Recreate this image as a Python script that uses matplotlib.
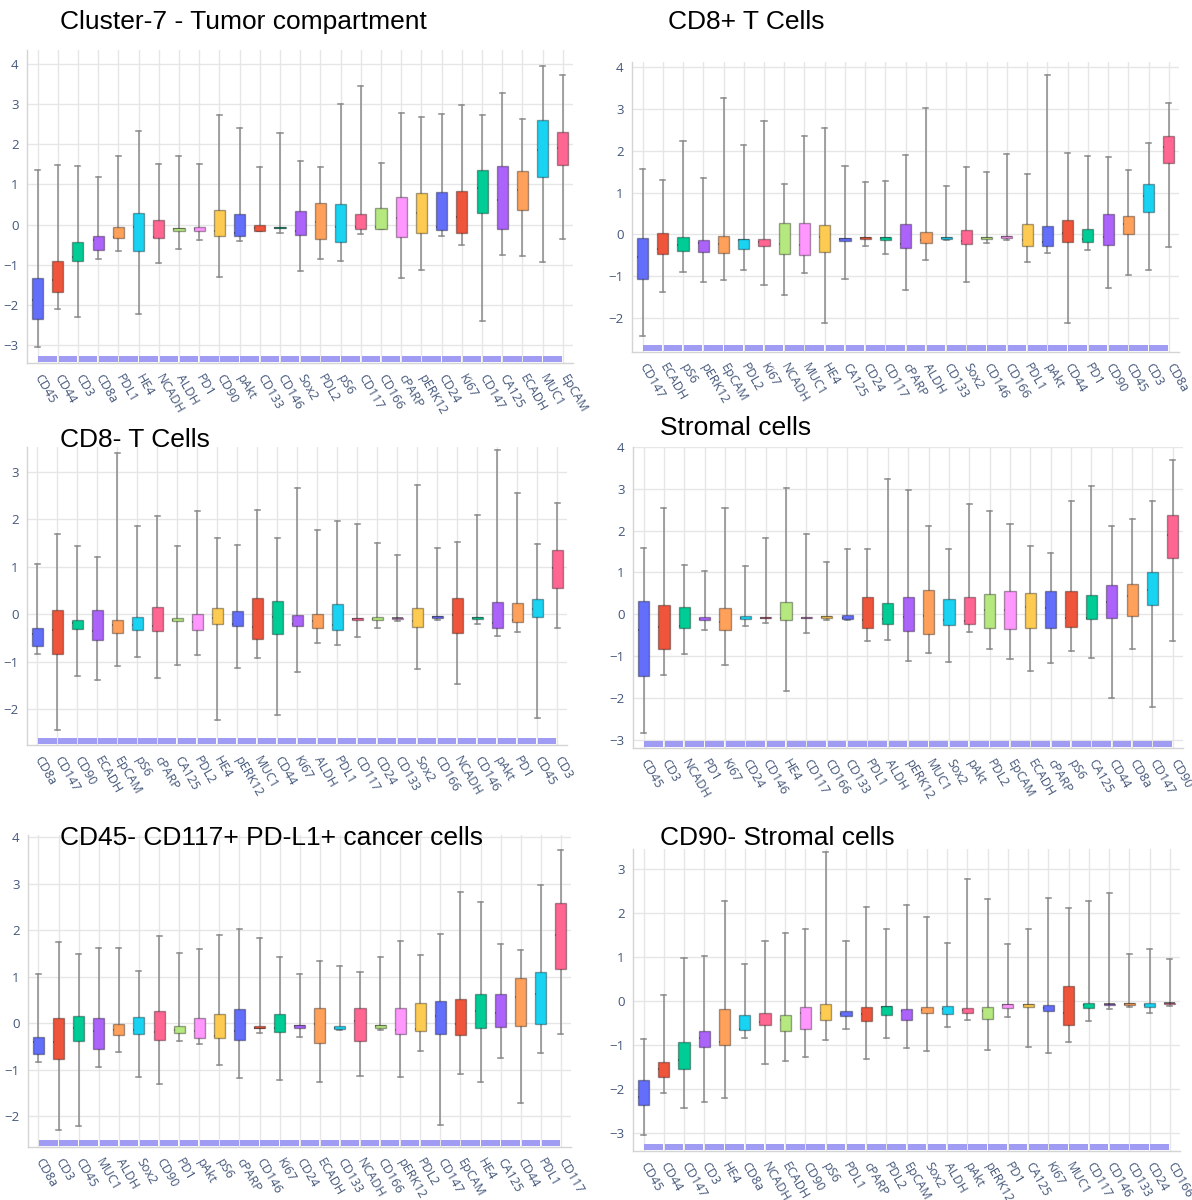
import matplotlib
matplotlib.use("Agg")
import matplotlib.pyplot as plt
from matplotlib.patches import Rectangle
from matplotlib.transforms import blended_transform_factory

W, H = 1192, 1200

# plotly default qualitative colours, cycled per marker
PALETTE = ['#636EFA', '#EF553B', '#00CC96', '#AB63FA', '#FFA15A',
           '#19D3F3', '#FF6692', '#B6E880', '#FF97FF', '#FECB52']

# every row: (lower whisker, q1, median, q3, upper whisker)

# Cluster-7 - Tumor compartment
tumor_labels = ['CD45', 'CD44', 'CD3', 'CD8a', 'PDL1', 'HE4', 'NCADH', 'ALDH', 'PD1',
                'CD90', 'pAkt', 'CD133', 'CD146', 'Sox2', 'PDL2', 'pS6', 'CD117',
                'CD166', 'cPARP', 'pERK12', 'CD24', 'Ki67', 'CD147', 'CA125', 'ECADH',
                'MUC1', 'EpCAM']
tumor_stats = [
    (-3.06, -2.35, -1.87, -1.33, 1.35), (-2.11, -1.67, -1.37, -0.90, 1.49),
    (-2.30, -0.92, -0.82, -0.43, 1.46), (-0.85, -0.64, -0.39, -0.29, 1.19),
    (-0.66, -0.34, -0.32, -0.07, 1.70), (-2.22, -0.67, -0.07, 0.30, 2.34),
    (-0.97, -0.34, -0.30, 0.11, 1.50), (-0.61, -0.17, -0.12, -0.08, 1.72),
    (-0.39, -0.16, -0.11, -0.05, 1.52), (-1.30, -0.28, -0.15, 0.36, 2.72),
    (-0.41, -0.29, -0.20, 0.27, 2.41), (-0.17, -0.15, -0.08, -0.02, 1.43),
    (-0.22, -0.09, -0.08, -0.07, 2.29), (-1.15, -0.25, -0.17, 0.35, 1.58),
    (-0.85, -0.35, 0.06, 0.53, 1.43), (-0.90, -0.44, -0.07, 0.51, 3.01),
    (-0.23, -0.10, -0.07, 0.27, 3.45), (-0.12, -0.10, -0.06, 0.41, 1.53),
    (-1.33, -0.32, 0.16, 0.68, 2.79), (-1.14, -0.22, 0.28, 0.78, 2.68),
    (-0.29, -0.13, -0.05, 0.81, 2.76), (-0.52, -0.21, 0.20, 0.83, 2.97),
    (-2.40, 0.29, 0.90, 1.37, 2.72), (-0.76, -0.12, 0.61, 1.46, 3.27),
    (-0.79, 0.37, 0.87, 1.34, 2.62), (-0.94, 1.19, 1.85, 2.61, 3.95),
    (-0.36, 1.49, 1.91, 2.31, 3.72),
]

# CD8+ T Cells
cd8pos_labels = ['CD147', 'ECADH', 'pS6', 'pERK12', 'EpCAM', 'PDL2', 'Ki67', 'NCADH',
                 'MUC1', 'HE4', 'CA125', 'CD24', 'CD117', 'cPARP', 'ALDH', 'CD133',
                 'Sox2', 'CD146', 'CD166', 'PDL1', 'pAkt', 'CD44', 'PD1', 'CD90',
                 'CD45', 'CD3', 'CD8a']
cd8pos_stats = [
    (-2.44, -1.07, -0.54, -0.08, 1.57), (-1.37, -0.46, -0.34, 0.04, 1.30),
    (-0.89, -0.40, -0.26, -0.06, 2.25), (-1.13, -0.43, -0.20, -0.14, 1.36),
    (-1.09, -0.45, -0.22, -0.03, 3.27), (-0.85, -0.36, -0.14, -0.12, 2.14),
    (-1.21, -0.27, -0.19, -0.12, 2.71), (-1.45, -0.47, -0.23, 0.27, 1.22),
    (-0.93, -0.50, -0.26, 0.28, 2.36), (-2.11, -0.41, -0.06, 0.23, 2.56),
    (-1.07, -0.15, -0.10, -0.08, 1.63), (-0.28, -0.12, -0.08, -0.05, 1.26),
    (-0.46, -0.13, -0.09, -0.05, 1.27), (-1.33, -0.33, -0.24, 0.26, 1.91),
    (-0.61, -0.21, -0.14, 0.05, 3.04), (-0.14, -0.10, -0.08, -0.06, 1.15),
    (-1.15, -0.24, -0.16, 0.10, 1.61), (-0.20, -0.10, -0.08, -0.06, 1.50),
    (-0.14, -0.08, -0.05, -0.03, 1.92), (-0.65, -0.27, -0.14, 0.26, 1.44),
    (-0.44, -0.27, -0.19, 0.21, 3.82), (-2.12, -0.19, 0.04, 0.34, 1.96),
    (-0.38, -0.17, -0.11, 0.12, 1.88), (-1.29, -0.25, -0.07, 0.49, 1.85),
    (-0.98, 0.02, 0.24, 0.45, 1.54), (-0.85, 0.54, 0.93, 1.21, 2.20),
    (-0.31, 1.72, 2.09, 2.35, 3.15),
]

# CD8- T Cells
cd8neg_labels = ['CD8a', 'CD147', 'CD90', 'ECADH', 'EpCAM', 'pS6', 'cPARP', 'CA125',
                 'PDL2', 'HE4', 'pERK12', 'MUC1', 'CD44', 'Ki67', 'ALDH', 'PDL1',
                 'CD117', 'CD24', 'CD133', 'Sox2', 'CD166', 'NCADH', 'CD146', 'pAkt',
                 'PD1', 'CD45', 'CD3']
cd8neg_stats = [
    (-0.84, -0.67, -0.41, -0.29, 1.05), (-2.44, -0.83, -0.32, 0.09, 1.70),
    (-1.30, -0.31, -0.19, -0.11, 1.44), (-1.38, -0.55, -0.35, 0.09, 1.21),
    (-1.09, -0.39, -0.22, -0.11, 3.40), (-0.90, -0.32, -0.22, -0.06, 1.85),
    (-1.33, -0.36, -0.25, 0.15, 2.07), (-1.07, -0.15, -0.12, -0.08, 1.43),
    (-0.85, -0.34, -0.16, 0.01, 2.17), (-2.22, -0.21, -0.08, 0.13, 1.61),
    (-1.14, -0.25, -0.21, 0.07, 1.46), (-0.93, -0.51, -0.27, 0.34, 2.19),
    (-2.12, -0.42, -0.06, 0.29, 1.61), (-1.21, -0.25, -0.20, -0.02, 2.66),
    (-0.61, -0.29, -0.15, 0.01, 1.77), (-0.65, -0.33, -0.23, 0.22, 1.96),
    (-0.47, -0.12, -0.10, -0.07, 1.89), (-0.28, -0.13, -0.09, -0.06, 1.49),
    (-0.15, -0.10, -0.08, -0.07, 1.24), (-1.15, -0.26, -0.15, 0.13, 2.73),
    (-0.13, -0.08, -0.06, -0.04, 1.40), (-1.46, -0.39, -0.01, 0.34, 1.53),
    (-0.20, -0.10, -0.08, -0.06, 2.09), (-0.45, -0.29, -0.18, 0.25, 3.45),
    (-0.37, -0.16, -0.12, 0.23, 2.56), (-2.19, -0.06, 0.11, 0.32, 1.47),
    (-0.29, 0.56, 0.98, 1.35, 2.34),
]

# Stromal cells
stromal_labels = ['CD45', 'CD3', 'NCADH', 'PD1', 'Ki67', 'CD24', 'CD146', 'HE4', 'CD117',
                  'CD166', 'CD133', 'PDL1', 'ALDH', 'pERK12', 'MUC1', 'Sox2', 'pAkt',
                  'PDL2', 'EpCAM', 'ECADH', 'cPARP', 'pS6', 'CA125', 'CD44', 'CD8a',
                  'CD147', 'CD90']
stromal_stats = [
    (-2.83, -1.47, -0.38, 0.31, 1.59), (-1.45, -0.82, -0.31, 0.21, 2.55),
    (-0.96, -0.32, -0.27, 0.17, 1.18), (-0.37, -0.14, -0.11, -0.07, 1.03),
    (-1.21, -0.37, -0.18, 0.15, 2.54), (-0.27, -0.12, -0.09, -0.05, 1.16),
    (-0.20, -0.10, -0.08, -0.06, 1.83), (-1.83, -0.14, -0.08, 0.30, 3.02),
    (-0.45, -0.10, -0.08, -0.06, 1.91), (-0.13, -0.10, -0.07, -0.04, 1.24),
    (-0.14, -0.12, -0.10, -0.03, 1.56), (-0.64, -0.32, -0.14, 0.42, 1.56),
    (-0.61, -0.24, -0.12, 0.26, 3.24), (-1.12, -0.40, -0.07, 0.41, 2.97),
    (-0.92, -0.47, -0.05, 0.59, 2.11), (-1.14, -0.25, -0.14, 0.37, 1.56),
    (-0.42, -0.24, -0.16, 0.41, 2.64), (-0.84, -0.33, 0.09, 0.49, 2.46),
    (-1.08, -0.36, 0.10, 0.55, 2.15), (-1.36, -0.32, 0.18, 0.51, 1.64),
    (-1.17, -0.32, 0.16, 0.55, 1.46), (-0.89, -0.30, -0.09, 0.56, 2.71),
    (-1.05, -0.11, -0.08, 0.45, 3.07), (-2.00, -0.10, 0.29, 0.69, 2.11),
    (-0.83, -0.04, 0.44, 0.72, 2.27), (-2.22, 0.21, 0.58, 1.02, 2.70),
    (-0.63, 1.35, 1.89, 2.38, 3.68),
]

# CD45- CD117+ PD-L1+ cancer cells
cancer_labels = ['CD8a', 'CD3', 'CD45', 'MUC1', 'ALDH', 'Sox2', 'CD90', 'PD1', 'pAkt',
                 'pS6', 'cPARP', 'CD146', 'Ki67', 'CD24', 'ECADH', 'CD133', 'NCADH',
                 'CD166', 'pERK12', 'PDL2', 'CD147', 'EpCAM', 'HE4', 'CA125', 'CD44',
                 'PDL1', 'CD117']
cancer_stats = [
    (-0.83, -0.67, -0.41, -0.29, 1.05), (-2.30, -0.76, -0.40, 0.12, 1.74),
    (-2.21, -0.39, -0.09, 0.16, 1.48), (-0.93, -0.55, -0.16, 0.11, 1.63),
    (-0.61, -0.25, -0.14, -0.01, 1.62), (-1.15, -0.24, -0.15, 0.13, 1.12),
    (-1.30, -0.36, -0.19, 0.26, 1.87), (-0.37, -0.20, -0.14, -0.05, 1.51),
    (-0.44, -0.31, -0.16, 0.11, 1.60), (-0.90, -0.31, -0.27, 0.21, 1.91),
    (-1.17, -0.35, -0.16, 0.31, 2.03), (-0.21, -0.11, -0.09, -0.06, 1.83),
    (-1.21, -0.19, -0.11, 0.19, 1.43), (-0.29, -0.09, -0.06, -0.04, 1.05),
    (-1.27, -0.43, -0.02, 0.34, 1.34), (-0.14, -0.12, -0.09, -0.06, 1.23),
    (-1.13, -0.38, 0.04, 0.34, 1.10), (-0.14, -0.09, -0.06, -0.04, 1.42),
    (-1.15, -0.23, -0.14, 0.34, 1.76), (-0.59, -0.16, -0.13, 0.44, 1.46),
    (-2.19, -0.22, 0.15, 0.49, 1.92), (-1.09, -0.25, -0.01, 0.52, 2.82),
    (-1.27, -0.09, 0.26, 0.63, 2.61), (-0.75, -0.07, 0.22, 0.63, 1.71),
    (-1.72, -0.06, 0.56, 0.98, 1.57), (-0.64, -0.02, 0.63, 1.10, 2.97),
    (-0.23, 1.16, 1.90, 2.59, 3.73),
]

# CD90- Stromal cells
cd90neg_labels = ['CD45', 'CD44', 'CD147', 'CD3', 'HE4', 'CD8a', 'NCADH', 'ECADH', 'CD90',
                  'pS6', 'PDL1', 'cPARP', 'PDL2', 'EpCAM', 'Sox2', 'ALDH', 'pAkt',
                  'pERK12', 'PD1', 'CA125', 'Ki67', 'MUC1', 'CD117', 'CD146', 'CD133',
                  'CD24', 'CD166']
cd90neg_stats = [
    (-3.05, -2.37, -2.20, -1.81, -0.87), (-2.11, -1.73, -1.56, -1.40, 0.12),
    (-2.44, -1.56, -1.35, -0.95, 0.96), (-2.30, -1.06, -0.86, -0.69, 1.02),
    (-2.21, -1.02, -0.93, -0.20, 2.27), (-0.84, -0.67, -0.64, -0.32, 0.84),
    (-1.44, -0.55, -0.49, -0.29, 1.36), (-1.37, -0.68, -0.43, -0.33, 1.53),
    (-1.28, -0.64, -0.27, -0.14, 1.63), (-0.89, -0.44, -0.27, -0.07, 3.39),
    (-0.65, -0.36, -0.30, -0.24, 1.35), (-1.32, -0.47, -0.31, -0.14, 2.13),
    (-0.84, -0.33, -0.14, -0.12, 1.64), (-1.08, -0.45, -0.23, -0.19, 2.17),
    (-1.15, -0.27, -0.21, -0.15, 1.90), (-0.61, -0.30, -0.20, -0.13, 1.32),
    (-0.45, -0.29, -0.22, -0.17, 2.77), (-1.13, -0.41, -0.23, -0.14, 2.31),
    (-0.37, -0.16, -0.11, -0.08, 1.30), (-1.06, -0.14, -0.11, -0.08, 1.62),
    (-1.20, -0.24, -0.16, -0.11, 2.33), (-0.93, -0.55, -0.27, 0.33, 2.10),
    (-0.46, -0.17, -0.09, -0.06, 2.26), (-0.20, -0.11, -0.08, -0.07, 2.44),
    (-0.14, -0.10, -0.08, -0.06, 1.06), (-0.27, -0.14, -0.09, -0.05, 1.18),
    (-0.12, -0.08, -0.06, -0.05, 0.95),
]

TICK_COLOR = '#44577a'
GRID_COLOR = '#e6e6e6'
BAND_COLOR = '#a09cf4'

fig = plt.figure(figsize=(W / 100, H / 100), dpi=100)


def draw_panel(box, ylim, yticks, labels, stats, title, title_xy):
    # box = (left, right, top, bottom) in pixels
    l, r, t, b = box
    ax = fig.add_axes([l / W, 1 - b / H, (r - l) / W, (b - t) / H])
    n = len(labels)
    pos = list(range(n))

    bstats = [dict(whislo=s[0], q1=s[1], med=s[2], q3=s[3], whishi=s[4], fliers=[])
              for s in stats]
    art = ax.bxp(bstats, positions=pos, widths=0.55, capwidths=0.25,
                 patch_artist=True, showfliers=False, manage_ticks=False,
                 boxprops=dict(edgecolor=(0, 0, 0, 0.35), linewidth=1),
                 medianprops=dict(color=(0, 0, 0, 0.6), linewidth=1.2),
                 whiskerprops=dict(color='#8a8a8a', linewidth=1.1),
                 capprops=dict(color='#8a8a8a', linewidth=1.1))
    for i, patch in enumerate(art['boxes']):
        patch.set_facecolor(PALETTE[i % len(PALETTE)])
        patch.set_zorder(3)

    # strip along the bottom of the axis
    trans = blended_transform_factory(ax.transData, ax.transAxes)
    band_h = 6 / (b - t)
    for i in range(n - 1):
        ax.add_patch(Rectangle((i + 0.04, 0.004), 0.92, band_h, transform=trans,
                               facecolor=BAND_COLOR, lw=0, zorder=2))

    ax.set_xlim(-0.52, n - 0.5)
    ax.set_ylim(*ylim)
    ax.set_yticks(yticks)
    ax.set_xticks(pos)
    ax.set_xticklabels(labels, rotation=-60, ha='left', va='center',
                       rotation_mode='anchor')
    ax.tick_params(axis='x', length=0, pad=9, labelsize=9, labelcolor=TICK_COLOR)
    ax.tick_params(axis='y', length=0, pad=6, labelsize=9.5, labelcolor=TICK_COLOR)
    for lab in ax.get_xticklabels() + ax.get_yticklabels():
        lab.set_fontfamily('Open Sans')

    ax.grid(True, color=GRID_COLOR, lw=1)
    ax.set_axisbelow(True)
    for side in ('top', 'right'):
        ax.spines[side].set_visible(False)
    for side in ('left', 'bottom'):
        ax.spines[side].set_color('#d4d4d4')
        ax.spines[side].set_linewidth(1)

    fig.text(title_xy[0] / W, 1 - title_xy[1] / H, title, fontsize=19,
             family='Liberation Sans', ha='left', va='center')
    return ax


draw_panel((27, 573, 50, 363), (-3.45, 4.35), range(-3, 5),
           tumor_labels, tumor_stats, 'Cluster-7 - Tumor compartment', (60, 22))
draw_panel((632, 1179, 62, 352), (-2.815, 4.13), range(-2, 5),
           cd8pos_labels, cd8pos_stats, 'CD8+ T Cells', (668, 22))
draw_panel((27, 567, 447, 745), (-2.75, 3.52), range(-2, 4),
           cd8neg_labels, cd8neg_stats, 'CD8- T Cells', (60, 440))
draw_panel((633, 1183, 447, 748), (-3.2, 4.0), range(-3, 5),
           stromal_labels, stromal_stats, 'Stromal cells', (660, 428))
draw_panel((28, 571, 835, 1147), (-2.66, 4.05), range(-2, 5),
           cancer_labels, cancer_stats, 'CD45- CD117+ PD-L1+ cancer cells', (60, 838))
draw_panel((633, 1180, 849, 1151), (-3.42, 3.45), range(-3, 4),
           cd90neg_labels, cd90neg_stats, 'CD90- Stromal cells', (660, 838))

fig.savefig('out.png', dpi=100, facecolor='white')
